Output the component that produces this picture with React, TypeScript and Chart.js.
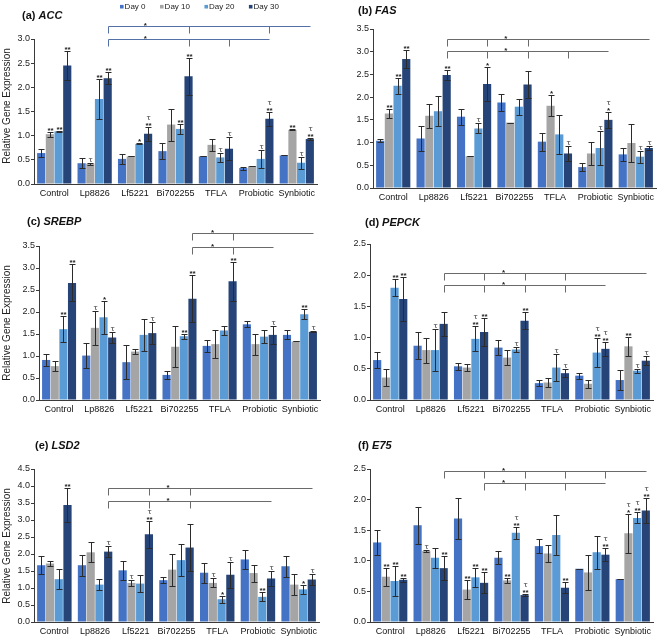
import React, { useEffect, useRef } from 'react';
import { Chart, registerables } from 'chart.js';

Chart.register(...registerables);

const FONT = "'Liberation Sans', Arial, Helvetica, sans-serif";

const categories = ['Control', 'Lp8826', 'Lf5221', 'Bi702255', 'TFLA', 'Probiotic', 'Synbiotic'];
const dayLabels = ['Day 0', 'Day 10', 'Day 20', 'Day 30'];
const dayColors = ['#4472c4', '#a5a5a5', '#5b9bd5', '#264478'];
const yTickStep = 0.5;

// rows: Day 0, Day 10, Day 20, Day 30 ; columns: categories
// (a) ACC
const accMean = [
  [0.64, 0.43, 0.52, 0.68, 0.57, 0.33, 0.59],
  [1.03, 0.42, 0.57, 1.23, 0.81, 0.37, 1.12],
  [1.09, 1.76, 0.83, 1.14, 0.55, 0.52, 0.44],
  [2.45, 2.19, 1.04, 2.23, 0.73, 1.35, 0.93],
];
const accErr = [
  [0.09, 0.1, 0.1, 0.16, 0, 0.03, 0],
  [0.05, 0.02, 0, 0.33, 0.13, 0, 0.01],
  [0.01, 0.41, 0.01, 0.1, 0.09, 0.19, 0.12],
  [0.3, 0.13, 0.14, 0.38, 0.24, 0.14, 0.02],
];
const accSig = [
  ['', '', '', '', '', '', ''],
  ['**', 't', '', '', '', '', '**'],
  ['**', '**', '*', '**', 't', 't', 't'],
  ['**', '**', '**t', '**', 't', '**t', '**t'],
];
const accBrackets = [
  { level: 3.27, ticks: [1, 3, 5], end: 6, star: 1.93 },
  { level: 3.0, ticks: [1, 3, 4], end: 5, star: 1.93 },
];

// (b) FAS
const fasMean = [
  [1.04, 1.09, 1.57, 1.88, 1.02, 0.46, 0.74],
  [1.64, 1.59, 0.7, 1.44, 1.81, 0.76, 0.99],
  [2.25, 1.69, 1.31, 1.79, 1.18, 0.88, 0.69],
  [2.84, 2.49, 2.29, 2.28, 0.76, 1.5, 0.88],
];
const fasErr = [
  [0.03, 0.27, 0.18, 0.19, 0.2, 0.08, 0.14],
  [0.11, 0.27, 0, 0, 0.23, 0.26, 0.42],
  [0.18, 0.33, 0.11, 0.18, 0.43, 0.37, 0.13],
  [0.19, 0.11, 0.37, 0.3, 0.17, 0.18, 0.04],
];
const fasSig = [
  ['', '', '', '', '', '', ''],
  ['**', '', '', '', '*', '', ''],
  ['**', '', 't', '', '', 't', 't'],
  ['**', '**', '*', '', 't', '*t', 't'],
];
const fasBrackets = [
  { level: 3.28, ticks: [1, 2, 3], end: 6, star: 2.46 },
  { level: 3.005, ticks: [1, 2, 3, 4], end: 5, star: 2.46 },
];

// (c) SREBP
const srebpMean = [
  [0.91, 1.01, 0.86, 0.57, 1.23, 1.72, 1.48],
  [0.77, 1.64, 1.1, 1.21, 1.27, 1.27, 1.33],
  [1.61, 1.88, 1.48, 1.45, 1.58, 1.44, 1.95],
  [2.66, 1.42, 1.52, 2.3, 2.7, 1.48, 1.55],
];
const srebpErr = [
  [0.14, 0.28, 0.38, 0.09, 0.14, 0.07, 0.1],
  [0.11, 0.38, 0.05, 0.47, 0.32, 0.24, 0],
  [0.3, 0.38, 0.36, 0.06, 0.11, 0.15, 0.11],
  [0.42, 0.12, 0.25, 0.53, 0.44, 0.21, 0.01],
];
const srebpSig = [
  ['', '', '', '', '', '', ''],
  ['', 't', '', '', '', '', ''],
  ['**', '*', '', '**', '', '', '**'],
  ['**', 't', 't', '**', '**', 't', 't'],
];
const srebpBrackets = [
  { level: 3.79, ticks: [3, 4], end: 6, star: 3.5 },
  { level: 3.485, ticks: [3, 4], end: 5, star: 3.5 },
];

// (d) PEPCK
const pepckMean = [
  [0.64, 0.87, 0.54, 0.84, 0.27, 0.39, 0.32],
  [0.36, 0.8, 0.52, 0.68, 0.28, 0.26, 0.86],
  [1.8, 0.8, 0.98, 0.81, 0.52, 0.76, 0.47],
  [1.62, 1.22, 1.09, 1.27, 0.43, 0.82, 0.63],
];
const pepckErr = [
  [0.13, 0.22, 0.06, 0.12, 0.05, 0.05, 0.16],
  [0.14, 0.2, 0.06, 0.12, 0.07, 0.06, 0.15],
  [0.14, 0.33, 0.2, 0.04, 0.22, 0.23, 0.03],
  [0.35, 0.19, 0.22, 0.14, 0.06, 0.11, 0.07],
];
const pepckSig = [
  ['', '', '', '', '', '', ''],
  ['', '', '', '', '', '', '**'],
  ['**', 't', '**t', 't', 't', '**t', 't'],
  ['**', '', '**', '**', 't', '**t', 't'],
];
const pepckBrackets = [
  { level: 2.035, ticks: [1, 2, 3, 4], end: 6, star: 2.48 },
  { level: 1.835, ticks: [1, 2, 3, 4], end: 5, star: 2.48 },
];

// (e) LSD2
const lsdMean = [
  [1.67, 1.67, 1.52, 1.23, 1.45, 1.84, 1.64],
  [1.72, 2.05, 1.15, 1.54, 1.15, 1.44, 1.1],
  [1.26, 1.1, 1.13, 1.82, 0.67, 0.74, 0.96],
  [3.44, 2.07, 2.58, 2.19, 1.39, 1.28, 1.25],
];
const lsdErr = [
  [0.27, 0.31, 0.28, 0.08, 0.29, 0.29, 0.31],
  [0.07, 0.29, 0.1, 0.47, 0.13, 0.25, 0.3],
  [0.29, 0.17, 0.26, 0.46, 0.1, 0.13, 0.14],
  [0.51, 0.17, 0.39, 0.7, 0.38, 0.22, 0.15],
];
const lsdSig = [
  ['', '', '', '', '', '', ''],
  ['', '', 't', '', 't', '', ''],
  ['', '', '', '', '*', '**', '*'],
  ['**', 't', '**t', '', 't', 't', 't'],
];
const lsdBrackets = [
  { level: 3.93, ticks: [1, 2, 3], end: 6, star: 2.47 },
  { level: 3.566, ticks: [1, 2, 3], end: 5, star: 2.47 },
];

// (f) E75
const e75Mean = [
  [1.3, 1.58, 1.69, 1.05, 1.24, 0.87, 0.7],
  [0.74, 1.16, 0.53, 0.68, 1.12, 0.81, 1.45],
  [0.67, 1.05, 0.73, 1.46, 1.42, 1.14, 1.7],
  [0.69, 0.88, 0.64, 0.44, 0.56, 1.1, 1.82],
];
const e75Err = [
  [0.21, 0.3, 0.34, 0.11, 0.12, 0, 0],
  [0.15, 0.02, 0.16, 0.04, 0.14, 0.28, 0.32],
  [0.24, 0.16, 0.15, 0.1, 0.33, 0.27, 0.09],
  [0.03, 0.2, 0.17, 0.01, 0.09, 0.11, 0.21],
];
const e75Sig = [
  ['', '', '', '', '', '', ''],
  ['**', 't', '**', '**', '', '', '*t'],
  ['**', '', '**', '**t', '', '', '**t'],
  ['**', '**', '**', '**t', '**', '**t', '**t'],
];
const e75Brackets = [
  { level: 2.467, ticks: [1, 2, 3, 4, 5], end: 6, star: 2.48 },
  { level: 2.266, ticks: [2, 3, 4], end: 5, star: 2.48 },
];

type Box = { left: number; top: number; width: number; height: number };
type Area = { L: number; R: number; T: number; B: number };

const panels = [
  {
    key: 'a', label: '(a) ', gene: 'ACC', max: 3.0, mean: accMean, err: accErr, sig: accSig, brackets: accBrackets,
    box: { left: 0, top: 0, width: 330, height: 205 }, area: { L: 34, R: 317, T: 39, B: 184 },
    titlePos: [22, 19], yTitle: [7.5, 106], legend: true, bracketColor: '#5570a6',
  },
  {
    key: 'b', label: '(b) ', gene: 'FAS', max: 3.5, mean: fasMean, err: fasErr, sig: fasSig, brackets: fasBrackets,
    box: { left: 330, top: 0, width: 330, height: 205 }, area: { L: 373, R: 656, T: 29, B: 188 },
    titlePos: [358, 14], yTitle: null, legend: false, bracketColor: '#6a6a6a',
  },
  {
    key: 'c', label: '(c) ', gene: 'SREBP', max: 3.5, mean: srebpMean, err: srebpErr, sig: srebpSig, brackets: srebpBrackets,
    box: { left: 0, top: 205, width: 330, height: 215 }, area: { L: 39, R: 320, T: 246, B: 400 },
    titlePos: [27, 225], yTitle: [7.5, 323], legend: false, bracketColor: '#6a6a6a',
  },
  {
    key: 'd', label: '(d) ', gene: 'PEPCK', max: 2.5, mean: pepckMean, err: pepckErr, sig: pepckSig, brackets: pepckBrackets,
    box: { left: 330, top: 205, width: 330, height: 215 }, area: { L: 370, R: 653, T: 244, B: 400 },
    titlePos: [365, 226], yTitle: null, legend: false, bracketColor: '#6a6a6a',
  },
  {
    key: 'e', label: '(e) ', gene: 'LSD2', max: 4.5, mean: lsdMean, err: lsdErr, sig: lsdSig, brackets: lsdBrackets,
    box: { left: 0, top: 420, width: 330, height: 218 }, area: { L: 34, R: 319, T: 469, B: 622 },
    titlePos: [35, 449], yTitle: [7.5, 546], legend: false, bracketColor: '#6a6a6a',
  },
  {
    key: 'f', label: '(f) ', gene: 'E75', max: 2.5, mean: e75Mean, err: e75Err, sig: e75Sig, brackets: e75Brackets,
    box: { left: 330, top: 420, width: 330, height: 218 }, area: { L: 370, R: 653, T: 469, B: 622 },
    titlePos: [358, 449], yTitle: null, legend: false, bracketColor: '#6a6a6a',
  },
];

function overlayPlugin(cfg: any) {
  const box: Box = cfg.box;
  return {
    id: 'overlay_' + cfg.key,
    afterDatasetsDraw(chart: any) {
      const ctx = chart.ctx;
      const ys = chart.scales.y;
      ctx.save();
      for (let d = 0; d < 4; d++) {
        const meta = chart.getDatasetMeta(d);
        meta.data.forEach((bar: any, i: number) => {
          const m = cfg.mean[d][i];
          const e = cfg.err[d][i];
          const x = Math.round(bar.x) + 0.5;
          const yt = Math.round(ys.getPixelForValue(m + e)) + 0.5;
          const yb = Math.round(ys.getPixelForValue(m - e)) + 0.5;
          ctx.strokeStyle = '#2b2b2b';
          ctx.lineWidth = 1;
          ctx.beginPath();
          ctx.moveTo(x, yt);
          ctx.lineTo(x, yb);
          ctx.moveTo(x - 3, yt);
          ctx.lineTo(x + 3, yt);
          ctx.moveTo(x - 3, yb);
          ctx.lineTo(x + 3, yb);
          ctx.stroke();
          const s: string = cfg.sig[d][i];
          if (!s) return;
          const tau = s.endsWith('t');
          const stars = s.replace('t', '');
          ctx.fillStyle = '#222';
          ctx.textAlign = 'center';
          ctx.textBaseline = 'alphabetic';
          let base = yt - 1;
          if (stars) {
            ctx.font = `bold 8px ${FONT}`;
            ctx.fillText(stars, x, base + 1);
            base -= 6;
          }
          if (tau) {
            ctx.font = `7px 'DejaVu Sans', ${FONT}`;
            ctx.fillText('τ', x, base - 1);
          }
        });
      }
      ctx.restore();
    },
    afterDraw(chart: any) {
      const ctx = chart.ctx;
      const ys = chart.scales.y;
      const m30 = chart.getDatasetMeta(3);
      const bx = (c: number) => m30.data[c].x;
      ctx.save();
      // significance brackets
      cfg.brackets.forEach((br: any) => {
        const ly = Math.round(ys.getPixelForValue(br.level)) + 0.5;
        ctx.strokeStyle = cfg.bracketColor;
        ctx.lineWidth = 1;
        ctx.beginPath();
        const x0 = Math.round(bx(br.ticks[0])) + 0.5;
        const x1 = Math.round(bx(br.end)) + 0.5;
        ctx.moveTo(x0, ly);
        ctx.lineTo(x1, ly);
        br.ticks.forEach((c: number) => {
          const tx = Math.round(bx(c)) + 0.5;
          ctx.moveTo(tx, ly);
          ctx.lineTo(tx, ly + 7);
        });
        ctx.stroke();
        const f = Math.floor(br.star);
        const fr = br.star - f;
        const sx = bx(f) + fr * (bx(Math.min(f + 1, 6)) - bx(f));
        ctx.fillStyle = '#222';
        ctx.font = `bold 8px ${FONT}`;
        ctx.textAlign = 'center';
        ctx.textBaseline = 'alphabetic';
        ctx.fillText('*', sx, ly + 1.5);
      });
      // panel title
      ctx.fillStyle = '#111';
      ctx.textAlign = 'left';
      ctx.textBaseline = 'alphabetic';
      const tx = cfg.titlePos[0] - box.left;
      const ty = cfg.titlePos[1] - box.top;
      ctx.font = `bold 11px ${FONT}`;
      ctx.fillText(cfg.label, tx, ty);
      const w = ctx.measureText(cfg.label).width;
      ctx.font = `italic bold 11px ${FONT}`;
      ctx.fillText(cfg.gene, tx + w, ty);
      // y axis title
      if (cfg.yTitle) {
        ctx.save();
        ctx.translate(cfg.yTitle[0] - box.left, cfg.yTitle[1] - box.top);
        ctx.rotate(-Math.PI / 2);
        ctx.font = `10px ${FONT}`;
        ctx.fillStyle = '#222';
        ctx.textAlign = 'center';
        ctx.textBaseline = 'middle';
        ctx.fillText('Relative Gene Expression', 0, 0);
        ctx.restore();
      }
      // legend
      if (cfg.legend) {
        let lx = 120 - box.left;
        const ly = 6.7 - box.top;
        ctx.font = `8px ${FONT}`;
        ctx.textBaseline = 'middle';
        ctx.textAlign = 'left';
        chart.data.datasets.forEach((ds: any) => {
          ctx.fillStyle = ds.backgroundColor;
          ctx.fillRect(lx, ly - 1.8, 3.6, 3.6);
          ctx.fillStyle = '#222';
          ctx.fillText(ds.label, lx + 4.6, ly + 0.5);
          lx += 4.6 + ctx.measureText(ds.label).width + 14.5;
        });
      }
      ctx.restore();
    },
  };
}

function Panel({ cfg }: { cfg: any }) {
  const ref = useRef<HTMLCanvasElement>(null);
  useEffect(() => {
    const box: Box = cfg.box;
    const area: Area = cfg.area;
    const chart = new Chart(ref.current as HTMLCanvasElement, {
      type: 'bar',
      data: {
        labels: categories,
        datasets: dayLabels.map((d, i) => ({
          label: d,
          data: cfg.mean[i],
          backgroundColor: dayColors[i],
          borderWidth: 0,
          categoryPercentage: 0.86,
          barPercentage: 0.94,
        })),
      },
      options: {
        animation: false,
        responsive: false,
        maintainAspectRatio: false,
        layout: {
          padding: {
            left: 0,
            right: box.left + box.width - area.R,
            top: area.T - box.top,
            bottom: 0,
          },
        },
        plugins: {
          legend: { display: false },
          tooltip: { enabled: false },
          title: { display: false },
        },
        scales: {
          x: {
            grid: { display: false, drawTicks: false },
            border: { display: true, color: '#3a3a3a', width: 1 },
            ticks: {
              color: '#111',
              font: { family: FONT, size: 9 },
              padding: 4,
              autoSkip: false,
              maxRotation: 0,
              minRotation: 0,
            },
            afterFit: (s: any) => {
              s.height = box.top + box.height - area.B;
            },
          },
          y: {
            min: 0,
            max: cfg.max,
            grid: { display: true, drawOnChartArea: false, drawTicks: true, tickLength: 3, color: '#3a3a3a' },
            border: { display: true, color: '#3a3a3a', width: 1 },
            ticks: {
              stepSize: yTickStep,
              color: '#222',
              font: { family: FONT, size: 9 },
              padding: 1,
              callback: (v: any) => Number(v).toFixed(1),
            },
            afterFit: (s: any) => {
              s.width = area.L - box.left;
            },
          },
        },
      },
      plugins: [overlayPlugin(cfg)],
    } as any);
    return () => chart.destroy();
  }, [cfg]);
  const b: Box = cfg.box;
  return (
    <canvas
      ref={ref}
      width={b.width}
      height={b.height}
      style={{ position: 'absolute', left: b.left, top: b.top, width: b.width, height: b.height }}
    />
  );
}

export default function App() {
  return (
    <div style={{ position: 'absolute', left: 0, top: 0, width: 660, height: 638, background: '#fff', overflow: 'hidden' }}>
      {panels.map((p) => (
        <Panel key={p.key} cfg={p} />
      ))}
    </div>
  );
}
